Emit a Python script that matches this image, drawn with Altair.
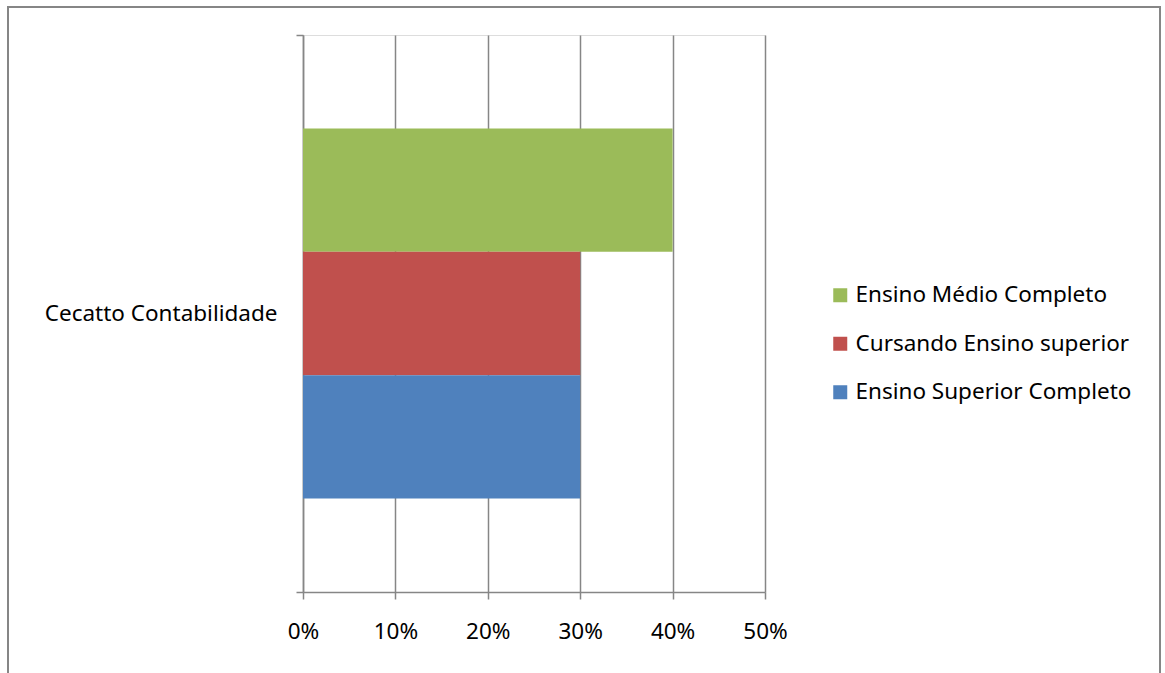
import altair as alt
import pandas as pd

categories = ["Cecatto Contabilidade"]
series = ["Ensino Médio Completo", "Cursando Ensino superior", "Ensino Superior Completo"]
values = [0.40, 0.30, 0.30]
colors = ["#9BBB59", "#C0504D", "#4F81BD"]
x_ticks = [0, 0.1, 0.2, 0.3, 0.4, 0.5]

df = pd.DataFrame({
    "empresa": [categories[0]] * len(series),
    "serie": series,
    "valor": values,
})

W, H = 462, 557
FONT = "Noto Sans"
FS = 22.5
GRAY = "#868686"

bars = alt.Chart(df).mark_bar().encode(
    x=alt.X("valor:Q",
            scale=alt.Scale(domain=[0, 0.5], nice=False, zero=True),
            axis=alt.Axis(values=x_ticks, format=".0%", title=None, grid=True,
                          gridColor=GRAY, gridWidth=1.5, domainColor=GRAY, domainWidth=1.5,
                          tickColor=GRAY, tickWidth=1.5, tickSize=7,
                          labelFontSize=FS, labelFont=FONT, labelColor="#000000",
                          labelPadding=21, labelFlush=False)),
    y=alt.Y("empresa:N",
            scale=alt.Scale(paddingInner=0, paddingOuter=0),
            axis=alt.Axis(title=None, tickBand="extent", domainColor=GRAY, domainWidth=1.5,
                          tickColor=GRAY, tickWidth=1.5, tickSize=7,
                          labelFontSize=FS, labelFont=FONT, labelColor="#000000",
                          labelPadding=19, labelLimit=400)),
    yOffset=alt.YOffset("serie:N", sort=series,
                        scale=alt.Scale(paddingInner=0, paddingOuter=0.758)),
    color=alt.Color("serie:N", sort=series,
                    scale=alt.Scale(domain=series, range=colors),
                    legend=alt.Legend(title=None, orient="none", legendX=526, legendY=249,
                                      symbolType="square", symbolSize=196, symbolStrokeWidth=0,
                                      labelFontSize=FS, labelFont=FONT, labelColor="#000000",
                                      labelOffset=4, rowPadding=25.5, padding=0, labelLimit=500)),
)

frame = alt.Chart(alt.Data(values=[{}])).mark_rect(
    filled=False, stroke=GRAY, strokeWidth=2
).encode(
    x=alt.value(-295), x2=alt.value(857), y=alt.value(-28), y2=alt.value(700)
)

chart = alt.layer(frame, bars).properties(
    width=W, height=H,
    padding={"left": 303, "top": 35, "right": 400, "bottom": 81},
    autosize=alt.AutoSizeParams(type="none"),
).configure_view(stroke="transparent").configure(background="#ffffff")

chart.save("out.html", embed_options={"renderer": "svg", "actions": False})
